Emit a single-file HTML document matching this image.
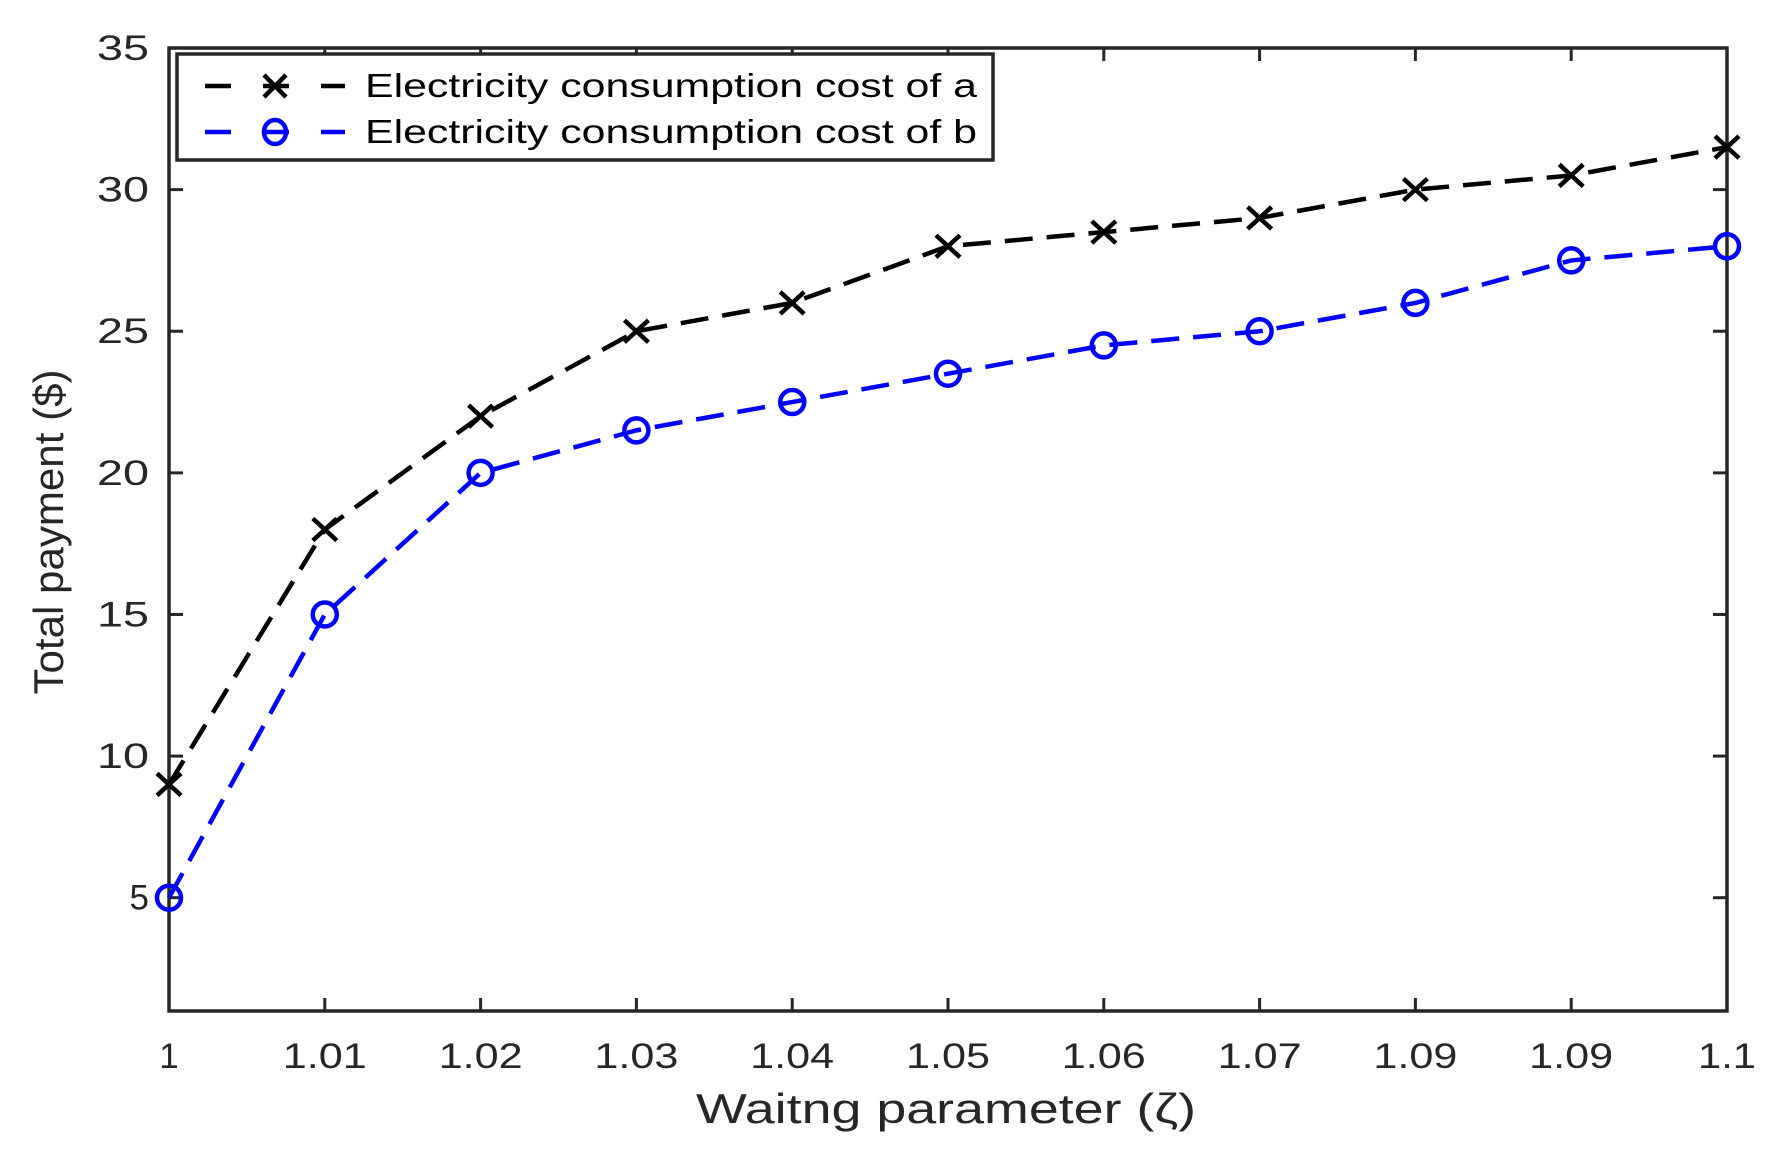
<!DOCTYPE html>
<html><head><style>html,body{margin:0;padding:0;background:#fff}</style></head><body>
<svg width="1790" height="1168" viewBox="0 0 1790 1168" xmlns="http://www.w3.org/2000/svg" font-family="Liberation Sans, sans-serif" fill="#262626">
<rect width="1790" height="1168" fill="#fff"/>
<g id="ticks" stroke="#262626" stroke-width="3"></g>
<rect x="169" y="48" width="1558" height="963" fill="none" stroke="#262626" stroke-width="3.5"/>
<g id="lbl" font-size="35"></g>
<text x="946" y="1123" font-size="42" text-anchor="middle" textLength="500" lengthAdjust="spacingAndGlyphs">Waitng parameter (ζ)</text>
<text transform="translate(63,532) rotate(-90)" font-size="42" text-anchor="middle" textLength="325" lengthAdjust="spacingAndGlyphs">Total payment ($)</text>
<polyline id="la" fill="none" stroke="#000" stroke-width="4.5" stroke-dasharray="28,14"/>
<polyline id="lb" fill="none" stroke="#0000ff" stroke-width="4.5" stroke-dasharray="28,14"/>
<g id="ma" stroke="#000" stroke-width="4.5"></g>
<g id="mb" stroke="#0000ff" stroke-width="4.5" fill="none"></g>
<rect x="177" y="54" width="816" height="106" fill="#fff" stroke="#262626" stroke-width="3.5"/>
<line x1="205" y1="86" x2="345" y2="86" stroke="#000" stroke-width="4.5" stroke-dasharray="26,32"/>
<path d="M264,75 l22,22 M286,75 l-22,22" stroke="#000" stroke-width="4.5"/>
<line x1="205" y1="132" x2="345" y2="132" stroke="#00f" stroke-width="4.5" stroke-dasharray="26,32"/>
<ellipse cx="275" cy="132" rx="11" ry="12" fill="none" stroke="#00f" stroke-width="4.5"/>
<text x="365" y="97" font-size="33" fill="#000" textLength="612" lengthAdjust="spacingAndGlyphs">Electricity consumption cost of a</text>
<text x="365" y="143" font-size="33" fill="#000" textLength="612" lengthAdjust="spacingAndGlyphs">Electricity consumption cost of b</text>
</svg>
<script>
const X=i=>169+i*155.8, Y=v=>1011-(v-1)*963/34;
const a=[9,18,22,25,26,28,28.5,29,30,30.5,31.5], b=[5,15,20,21.5,22.5,23.5,24.5,25,26,27.5,28];
const NS="http://www.w3.org/2000/svg";
function el(p,t,at,txt){const e=document.createElementNS(NS,t);for(const k in at)e.setAttribute(k,at[k]);if(txt)e.textContent=txt;document.getElementById(p).appendChild(e);}
const xl=["1","1.01","1.02","1.03","1.04","1.05","1.06","1.07","1.09","1.09","1.1"];
for(let i=0;i<11;i++){const x=X(i);
 el("ticks","line",{x1:x,y1:1011,x2:x,y2:998});el("ticks","line",{x1:x,y1:48,x2:x,y2:61});
 const at={x:x,y:1068,"text-anchor":"middle"};
 if(xl[i].length==4){at.textLength=84;at.lengthAdjust="spacingAndGlyphs";}
 if(xl[i].length==3){at.textLength=58;at.lengthAdjust="spacingAndGlyphs";}
 el("lbl","text",at,xl[i]);}
for(let v=5;v<=35;v+=5){const y=Y(v);
 el("ticks","line",{x1:169,y1:y,x2:183,y2:y});el("ticks","line",{x1:1727,y1:y,x2:1713,y2:y});
 const at={x:149,y:y+12,"text-anchor":"end"};
 if(v>=10){at.textLength=52;at.lengthAdjust="spacingAndGlyphs";}
 el("lbl","text",at,String(v));}
document.getElementById("la").setAttribute("points",a.map((v,i)=>X(i)+","+Y(v)).join(" "));
document.getElementById("lb").setAttribute("points",b.map((v,i)=>X(i)+","+Y(v)).join(" "));
a.forEach((v,i)=>{const x=X(i),y=Y(v);el("ma","path",{d:`M${x-12},${y-11}l24,22M${x+12},${y-11}l-24,22`});});
b.forEach((v,i)=>{el("mb","ellipse",{cx:X(i),cy:Y(v),rx:12,ry:12});});
</script>
</body></html>
